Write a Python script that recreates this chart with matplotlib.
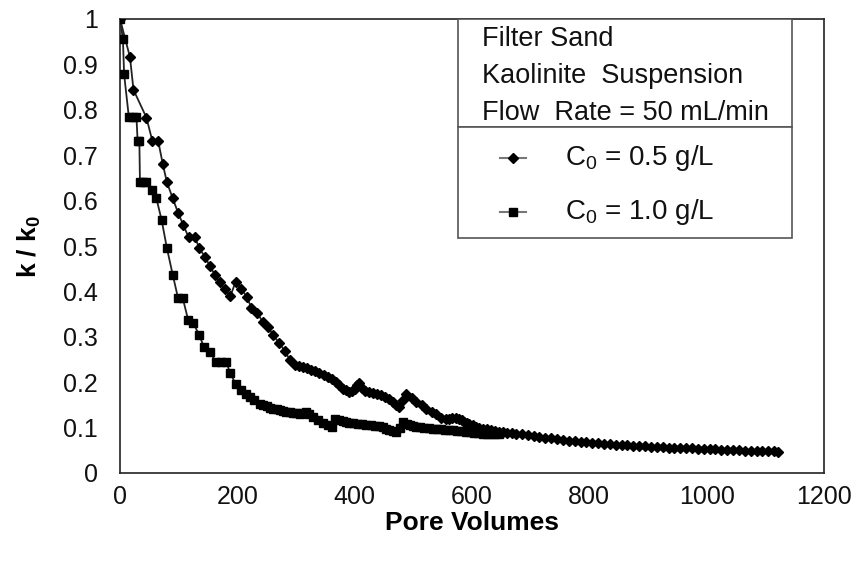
import matplotlib
matplotlib.use("Agg")
import matplotlib.pyplot as plt
from matplotlib.patches import Rectangle

plt.rcParams["font.family"] = ["Liberation Sans", "DejaVu Sans"]
plt.rcParams["mathtext.fontset"] = "custom"
plt.rcParams["mathtext.rm"] = "Liberation Sans"
plt.rcParams["mathtext.bf"] = "Liberation Sans:bold"

# C0 = 0.5 g/L (small diamonds)
pv_05 = [0, 17, 23, 45, 55, 65, 73, 80, 90, 99, 108, 117, 128, 135, 145, 153, 162,
         170, 179, 188, 197, 207, 216, 224, 234, 243, 252, 261, 271, 281, 289,
         299, 305, 312, 319, 326, 333, 340, 347, 354, 361, 368, 374, 380, 386, 391,
         396, 400, 404, 407, 412, 417, 424, 431, 438, 445, 452, 459, 465, 471, 476,
         482, 488, 497, 505, 514, 522, 531, 539, 548, 556, 561, 566, 572, 578, 583,
         587, 591, 595, 601, 607, 612, 618, 625, 632, 639, 646, 653, 660, 668,
         675, 685, 695, 705, 715, 725, 735, 745, 755, 765, 775, 785, 795, 805, 815,
         825, 835, 845, 855, 865, 875, 885, 895, 905, 915, 925, 935, 945, 955, 965,
         975, 985, 995, 1005, 1015, 1025, 1035, 1045, 1055, 1065, 1075, 1085, 1095,
         1105, 1115, 1122]
k_05 = [1.0, 0.916, 0.844, 0.783, 0.732, 0.732, 0.680, 0.640, 0.605, 0.573, 0.546,
        0.519, 0.519, 0.495, 0.476, 0.456, 0.436, 0.420, 0.405, 0.389, 0.421, 0.406,
        0.388, 0.364, 0.353, 0.333, 0.322, 0.304, 0.287, 0.269, 0.250,
        0.238, 0.236, 0.234, 0.231, 0.227, 0.224, 0.220, 0.216, 0.212, 0.207, 0.201,
        0.193, 0.186, 0.182, 0.179, 0.181, 0.184, 0.193, 0.199, 0.188, 0.180, 0.178,
        0.176, 0.174, 0.172, 0.168, 0.164, 0.157, 0.150, 0.146, 0.160, 0.174, 0.165,
        0.157, 0.150, 0.142, 0.135, 0.129, 0.122, 0.118, 0.120, 0.122, 0.121, 0.120,
        0.116, 0.113, 0.111, 0.109, 0.105, 0.102, 0.100, 0.098, 0.096, 0.094, 0.092,
        0.091, 0.090, 0.089, 0.088,
        0.087, 0.085, 0.083, 0.081, 0.079, 0.077, 0.076, 0.074, 0.073, 0.071, 0.070,
        0.069, 0.068, 0.066, 0.065, 0.064, 0.063, 0.062, 0.062, 0.061, 0.060, 0.059,
        0.059, 0.058, 0.057, 0.057, 0.056, 0.056, 0.055, 0.055, 0.054, 0.053, 0.053,
        0.052, 0.052, 0.051, 0.051, 0.050, 0.050, 0.049, 0.049, 0.049, 0.048, 0.048,
        0.048, 0.047]

# C0 = 1.0 g/L (squares)
pv_10 = [0, 5, 7, 15, 22, 28, 30, 33, 34, 40, 45, 54, 62, 71, 80, 90, 99, 107, 116,
         125, 135, 143, 153, 164, 172, 181, 188, 197, 207, 214, 221, 229, 238, 244,
         250, 256, 261, 267, 272, 278, 283, 289, 295, 300, 306, 311, 317, 323, 329,
         337, 346, 354, 362, 367, 374, 380, 386, 391, 398, 405, 412, 420, 427, 434,
         441, 448, 454, 459, 465, 471, 477, 483, 489, 494, 500, 505, 512, 519, 526,
         533, 540, 547, 554, 561, 568, 575, 582, 590, 597, 604, 611, 618, 625, 632,
         639, 646]
k_10 = [1.0, 0.955, 0.878, 0.785, 0.785, 0.785, 0.732, 0.732, 0.642, 0.642, 0.642,
        0.623, 0.605, 0.557, 0.495, 0.436, 0.385, 0.385, 0.338, 0.330, 0.304, 0.278,
        0.267, 0.244, 0.244, 0.244, 0.220, 0.196, 0.183, 0.175, 0.168, 0.160, 0.153,
        0.150, 0.147, 0.144, 0.142, 0.140, 0.138, 0.136, 0.135, 0.134, 0.133, 0.132,
        0.131, 0.133, 0.135, 0.129, 0.124, 0.117, 0.111, 0.106, 0.102, 0.118, 0.116,
        0.114, 0.112, 0.111, 0.110, 0.108, 0.107, 0.106, 0.105, 0.104, 0.103, 0.102,
        0.098, 0.095, 0.093, 0.091, 0.100, 0.113, 0.109, 0.106, 0.104, 0.102, 0.101,
        0.100, 0.099, 0.098, 0.097, 0.096, 0.095, 0.095, 0.094, 0.093, 0.092, 0.091,
        0.090, 0.089, 0.088, 0.087, 0.087, 0.087, 0.087, 0.087]

x_ticks = [0, 200, 400, 600, 800, 1000, 1200]
y_ticks = [0, 0.1, 0.2, 0.3, 0.4, 0.5, 0.6, 0.7, 0.8, 0.9, 1]
y_labels = ["0", "0.1", "0.2", "0.3", "0.4", "0.5", "0.6", "0.7", "0.8", "0.9", "1"]
info_lines = ["Filter Sand", "Kaolinite  Suspension", "Flow  Rate = 50 mL/min"]
series_labels = ["C$_0$ = 0.5 g/L", "C$_0$ = 1.0 g/L"]

fig = plt.figure(figsize=(8.58, 5.68), dpi=100)
ax = fig.add_axes([120 / 858, 1 - 473 / 568, 704 / 858, 454 / 568])

ax.plot(pv_05, k_05, color="#222222", lw=1.3, marker="D", ms=4.8,
        mfc="black", mec="black", zorder=3)
ax.plot(pv_10, k_10, color="#222222", lw=1.3, marker="s", ms=6,
        mfc="black", mec="black", zorder=3)

ax.set_xlim(0, 1200)
ax.set_ylim(0, 1)
ax.set_xticks(x_ticks)
ax.set_yticks(y_ticks)
ax.set_yticklabels(y_labels)
ax.tick_params(axis="both", length=0, labelsize=18, colors="#111111")
ax.tick_params(axis="y", pad=16)
ax.tick_params(axis="x", pad=9)
for sp in ax.spines.values():
    sp.set_linewidth(1.2)
    sp.set_color("#222222")

ax.set_xlabel("Pore Volumes", fontsize=19, fontweight="bold", labelpad=1)
ax.set_ylabel("k / k$_\\mathbf{0}$", fontsize=19, fontweight="bold", labelpad=14)

# legend box: info panel on top, series entries below
bx0, bx1 = 0.480, 0.9545
by_top, by_mid, by_bot = 1.0, 0.762, 0.518
ax.add_patch(Rectangle((bx0, by_mid), bx1 - bx0, by_top - by_mid, transform=ax.transAxes,
                       fill=True, fc="white", ec="#555555", lw=1.2, zorder=4))
ax.add_patch(Rectangle((bx0, by_bot), bx1 - bx0, by_mid - by_bot, transform=ax.transAxes,
                       fill=True, fc="white", ec="#555555", lw=1.2, zorder=4))
for i, line in enumerate(info_lines):
    ax.text(0.514, 0.955 - i * 0.081, line, transform=ax.transAxes, fontsize=19.5,
            va="center", ha="left", color="#111111", zorder=5)

entry_y = [0.693, 0.575]
markers = ["D", "s"]
sizes = [4.8, 6]
for yy, lab, mk, ms in zip(entry_y, series_labels, markers, sizes):
    ax.plot([0.54, 0.576], [yy, yy], transform=ax.transAxes, color="#777777", lw=1.5,
            zorder=5, clip_on=False)
    ax.plot([0.558], [yy], transform=ax.transAxes, marker=mk, ms=ms, color="black",
            zorder=6, clip_on=False)
    ax.text(0.632, yy, lab, transform=ax.transAxes, fontsize=20, va="center",
            ha="left", color="#111111", zorder=5)

fig.savefig("out.png", dpi=100)
